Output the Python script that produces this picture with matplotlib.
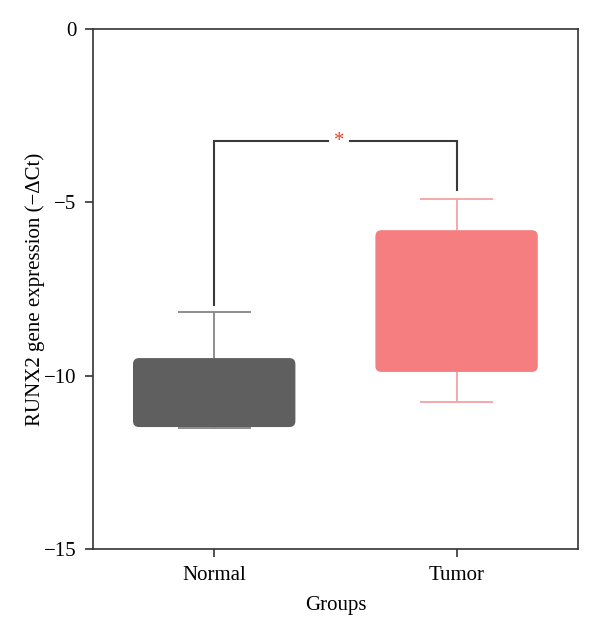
import numpy as np
import matplotlib
matplotlib.use("Agg")
import matplotlib.pyplot as plt
from matplotlib.patches import FancyBboxPatch

plt.rcParams['font.family'] = ['Liberation Serif', 'DejaVu Serif']

# data
groups = ['Normal', 'Tumor']
positions = [1, 2]
q1 = [-11.48, -9.89]
q3 = [-9.49, -5.80]
whisker_low = [-11.50, -10.76]
whisker_high = [-8.16, -4.90]
box_colors = ['#5f5f5f', '#f47e80']
whisker_colors = ['#858585', '#f5a3a3']

# significance bracket
bracket_y = -3.23
bracket_left_end = -7.95
bracket_right_end = -4.64
sig_label = '*'

fig = plt.figure(figsize=(6, 6.34), dpi=100)
ax = fig.add_axes([0.155, 0.134, 0.808, 0.820])
ax.set_xlim(0.5, 2.5)
ax.set_ylim(-15, 0)

box_w = 0.67
cap_w = 0.30
# px per x unit / px per y unit, so the corners come out round
aspect = 243.0 / 34.67

for i, x in enumerate(positions):
    # whiskers
    ax.vlines(x, q3[i], whisker_high[i], color=whisker_colors[i], lw=1.3, zorder=1)
    ax.vlines(x, whisker_low[i], q1[i], color=whisker_colors[i], lw=1.3, zorder=1)
    ax.hlines([whisker_low[i], whisker_high[i]], x - cap_w / 2, x + cap_w / 2,
              color=whisker_colors[i], lw=1.3, zorder=1)
    box = FancyBboxPatch((x - box_w / 2, q1[i]), box_w, q3[i] - q1[i],
                         boxstyle='round,pad=0,rounding_size=0.025',
                         mutation_aspect=aspect,
                         facecolor=box_colors[i], edgecolor='none', zorder=2)
    ax.add_patch(box)

# bracket with gap for the star
bc = '#3a3a3a'
ax.plot([1, 1, 1.47], [bracket_left_end, bracket_y, bracket_y], color=bc, lw=1.5,
        solid_joinstyle='miter', zorder=3)
ax.plot([1.56, 2, 2], [bracket_y, bracket_y, bracket_right_end], color=bc, lw=1.5,
        solid_joinstyle='miter', zorder=3)
ax.text(1.515, bracket_y, sig_label, color='#e8412c', fontsize=15,
        ha='center', va='center', zorder=3)

ax.set_xticks(positions)
ax.set_xticklabels(groups)
ax.set_yticks([0, -5, -10, -15])
ax.set_yticklabels(['0', '\u22125', '\u221210', '\u221215'])
ax.tick_params(axis='both', direction='out', length=6, width=1.2,
               color='#333333', labelsize=15, pad=6)
for s in ax.spines.values():
    s.set_color('#333333')
    s.set_linewidth(1.2)

ax.set_xlabel('Groups', fontsize=15, labelpad=8)
ax.set_ylabel('RUNX2 gene expression (\u2212\u0394Ct)', fontsize=15, labelpad=-1)

fig.savefig('out.png', dpi=100, facecolor='white')
